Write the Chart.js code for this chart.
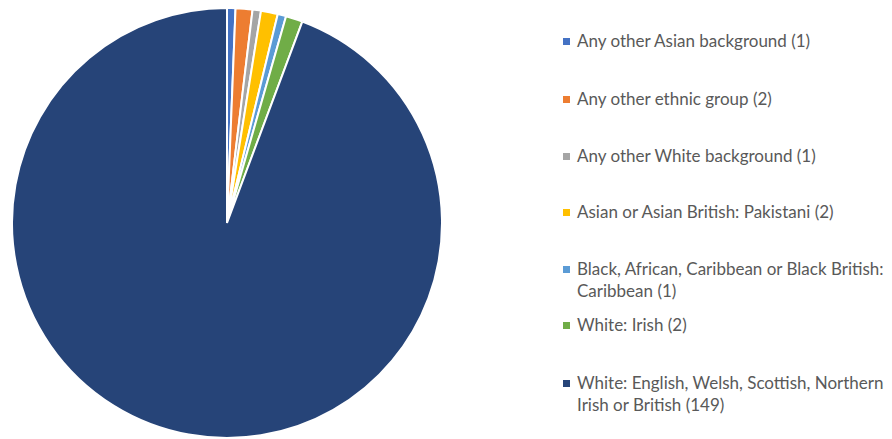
<!DOCTYPE html>
<html>
<head>
<meta charset="utf-8">
<script src="https://cdn.jsdelivr.net/npm/chart.js@4"></script>
<style>
  html, body { margin: 0; padding: 0; background: #fff; }
  body { width: 892px; height: 439px; position: relative; overflow: hidden; font-family: Lato, "Open Sans", sans-serif; }
  #pieWrap { position: absolute; left: 11px; top: 7px; width: 432px; height: 432px; }
  #legend { position: absolute; left: 563px; top: 0; width: 329px; }
  .item { position: absolute; left: 0; width: 329px; }
  .mark { position: absolute; left: 0; width: 7px; height: 7px; }
  .txt { position: absolute; left: 14px; width: 320px; font-size: 17px; line-height: 21.5px; color: #595959; white-space: pre; }
</style>
</head>
<body>
<div id="pieWrap"><canvas id="c" width="432" height="432"></canvas></div>
<div id="legend"></div>
<script>
// Ethnic group categories and respondent counts
const categories = [
  "Any other Asian background",
  "Any other ethnic group",
  "Any other White background",
  "Asian or Asian British: Pakistani",
  "Black, African, Caribbean or Black British:\nCaribbean",
  "White: Irish",
  "White: English, Welsh, Scottish, Northern\nIrish or British"
];
const counts = [1, 2, 1, 2, 1, 2, 149];
const colors = ["#4472C4", "#ED7D31", "#A5A5A5", "#FFC000", "#5B9BD5", "#70AD47", "#264478"];
// vertical centre of each legend entry's first line
const legendRows = [41, 99, 156, 212, 269, 325, 383];

new Chart(document.getElementById("c"), {
  type: "pie",
  data: {
    labels: categories.map(s => s.replace("\n", " ")),
    datasets: [{
      data: counts,
      backgroundColor: colors,
      borderColor: "#ffffff",
      borderWidth: 2
    }]
  },
  options: {
    responsive: false,
    animation: false,
    layout: { padding: 0 },
    plugins: { legend: { display: false }, tooltip: { enabled: false } }
  }
});

const legend = document.getElementById("legend");
categories.forEach((name, i) => {
  const item = document.createElement("div");
  item.className = "item";
  item.style.top = legendRows[i] + "px";
  const mark = document.createElement("div");
  mark.className = "mark";
  mark.style.background = colors[i];
  mark.style.top = "-3.5px";
  const txt = document.createElement("div");
  txt.className = "txt";
  txt.style.top = "-11px";
  txt.textContent = name + " (" + counts[i] + ")";
  item.appendChild(mark);
  item.appendChild(txt);
  legend.appendChild(item);
});
</script>
</body>
</html>
